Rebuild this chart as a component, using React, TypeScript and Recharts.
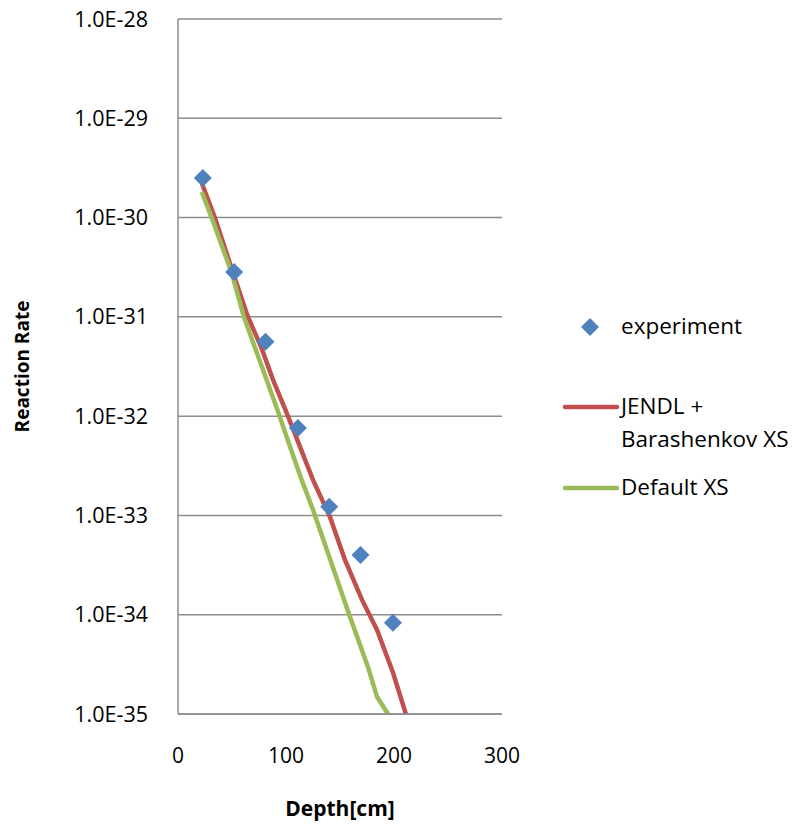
import { LineChart, Line, Scatter, XAxis, YAxis, CartesianGrid, Label } from 'recharts';

const FONT = "'Open Sans', 'Liberation Sans', sans-serif";

// experiment: depth [cm], reaction rate
const expDepth = [23, 52, 81, 111, 140, 169, 199];
const expRate = [2.5e-30, 2.83e-31, 5.6e-32, 7.6e-33, 1.22e-33, 4.0e-34, 8.3e-35];

// JENDL + Barashenkov XS
const jendlDepth = [22, 34, 51, 64, 77.5, 88, 100.6, 113, 125, 140.7, 154.6, 170.4, 184.3, 199.1, 211];
const jendlRate = [
  2.23e-30, 1.01e-30, 2.77e-31, 1.05e-31, 4.8e-32, 2.32e-32, 1.08e-32, 4.9e-33, 2.28e-33, 9.66e-34,
  3.56e-34, 1.41e-34, 7.03e-35, 2.6e-35, 1.0e-35,
];

// Default XS
const defDepth = [22, 31, 49.7, 61, 82, 93, 103.7, 114.5, 125, 159.3, 175.9, 184.3, 194.4];
const defRate = [
  1.81e-30, 1.01e-30, 2.77e-31, 1.0e-31, 2.32e-32, 1.08e-32, 4.93e-33, 2.28e-33, 1.14e-33, 9.5e-35,
  2.98e-35, 1.49e-35, 1.0e-35,
];

const yTicks = [1e-35, 1e-34, 1e-33, 1e-32, 1e-31, 1e-30, 1e-29, 1e-28];
const xTicks = [0, 100, 200, 300];

const expData = expDepth.map((d, i) => ({ depth: d, rate: expRate[i] }));
const jendlData = jendlDepth.map((d, i) => ({ depth: d, rate: jendlRate[i] }));
const defData = defDepth.map((d, i) => ({ depth: d, rate: defRate[i] }));

const fmtY = (v: number) => `1.0E${Math.round(Math.log10(v))}`;

function Diamond(props: any) {
  const { cx, cy } = props;
  if (cx == null || cy == null) return null;
  const r = 9;
  return (
    <path
      d={`M${cx},${cy - r} L${cx + r},${cy} L${cx},${cy + r} L${cx - r},${cy} Z`}
      fill="#4f81bd"
    />
  );
}

function ChartLegend() {
  const text: React.CSSProperties = {
    position: 'absolute',
    fontFamily: FONT,
    fontSize: 22.5,
    color: '#000',
    lineHeight: '33px',
    whiteSpace: 'nowrap',
  };
  return (
    <div style={{ position: 'absolute', left: 0, top: 0 }}>
      <svg width={796} height={825} style={{ position: 'absolute', left: 0, top: 0 }}>
        <path d="M590,318 L599,327 L590,336 L581,327 Z" fill="#4f81bd" />
        <line x1={565} y1={407} x2={617} y2={407} stroke="#c0504d" strokeWidth={4.5} strokeLinecap="round" />
        <line x1={565} y1={488} x2={617} y2={488} stroke="#9bbb59" strokeWidth={4.5} strokeLinecap="round" />
      </svg>
      <span style={{ ...text, left: 621, top: 309 }}>experiment</span>
      <span style={{ ...text, left: 621, top: 389 }}>
        JENDL +<br />
        Barashenkov XS
      </span>
      <span style={{ ...text, left: 621, top: 470 }}>Default XS</span>
    </div>
  );
}

export default function App() {
  return (
    <div style={{ position: 'absolute', left: 0, top: 0, width: 796, height: 825, background: '#fff' }}>
      <LineChart width={796} height={825} margin={{ top: 19, right: 294, bottom: 51, left: 0 }}>
        <CartesianGrid horizontal vertical={false} stroke="#8c8c8c" strokeWidth={1.5} />
        <XAxis
          type="number"
          dataKey="depth"
          domain={[0, 300]}
          ticks={xTicks}
          allowDataOverflow
          height={60}
          stroke="#8c8c8c"
          strokeWidth={1.5}
          tickLine={false}
          tick={{ fill: '#000', fontSize: 21, fontFamily: FONT }}
          tickMargin={28}
        >
          <Label
            value="Depth[cm]"
            position="insideBottom"
            offset={-42}
            style={{ fontFamily: FONT, fontSize: 21, fontWeight: 700, fill: '#000' }}
          />
        </XAxis>
        <YAxis
          type="number"
          dataKey="rate"
          scale="log"
          domain={[1e-35, 1e-28]}
          ticks={yTicks}
          allowDataOverflow
          width={178}
          stroke="#8c8c8c"
          strokeWidth={1.5}
          tickLine={false}
          tickFormatter={fmtY}
          tick={{ fill: '#000', fontSize: 21.5, fontFamily: FONT }}
          tickMargin={24}
        >
          <Label
            value="Reaction Rate"
            angle={-90}
            position="insideLeft"
            offset={22}
            style={{ fontFamily: FONT, fontSize: 19, fontWeight: 700, fill: '#000', textAnchor: 'middle' }}
          />
        </YAxis>
        <Line
          data={jendlData}
          dataKey="rate"
          type="linear"
          stroke="#c0504d"
          strokeWidth={4.5}
          dot={false}
          activeDot={false}
          isAnimationActive={false}
        />
        <Line
          data={defData}
          dataKey="rate"
          type="linear"
          stroke="#9bbb59"
          strokeWidth={4.5}
          dot={false}
          activeDot={false}
          isAnimationActive={false}
        />
        <Scatter data={expData} dataKey="rate" shape={<Diamond />} isAnimationActive={false} />
      </LineChart>
      <ChartLegend />
    </div>
  );
}
